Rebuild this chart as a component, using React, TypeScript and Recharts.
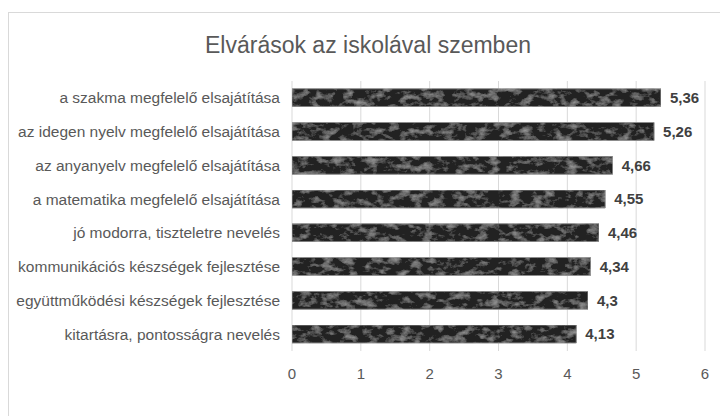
import React from 'react';
import { BarChart, Bar, XAxis, YAxis, CartesianGrid, LabelList } from 'recharts';

const categories = [
  'a szakma megfelelő elsajátítása',
  'az idegen nyelv megfelelő elsajátítása',
  'az anyanyelv megfelelő elsajátítása',
  'a matematika megfelelő elsajátítása',
  'jó modorra, tiszteletre nevelés',
  'kommunikációs készségek fejlesztése',
  'együttműködési készségek fejlesztése',
  'kitartásra, pontosságra nevelés',
];
const values = [5.36, 5.26, 4.66, 4.55, 4.46, 4.34, 4.3, 4.13];
const xTicks = [0, 1, 2, 3, 4, 5, 6];
const title = 'Elvárások az iskolával szemben';

const data = categories.map((c, i) => ({ name: c, value: values[i] }));

const FONT = '"Liberation Sans", Arial, sans-serif';

export default function App() {
  return (
    <div style={{ position: 'absolute', left: 0, top: 0, width: 720, height: 416, overflow: 'hidden', background: '#fff' }}>
      <div style={{ position: 'absolute', left: 8, top: 12, width: 800, height: 500, border: '1px solid #d9d9d9', boxSizing: 'border-box' }} />
      <div style={{ position: 'absolute', left: 0, top: 30, width: 736, textAlign: 'center', fontFamily: FONT, fontSize: 23, color: '#595959', lineHeight: '30px' }}>
        {title}
      </div>
      <div style={{ position: 'absolute', left: 0, top: 0 }}>
        <BarChart
          width={720}
          height={416}
          data={data}
          layout="vertical"
          margin={{ top: 81, right: 15, bottom: 35, left: 0 }}
          barCategoryGap="23%"
        >
          <defs>
            <filter id="tex" x="0" y="0" width="100%" height="100%">
              <feTurbulence type="fractalNoise" baseFrequency="0.09 0.14" numOctaves="4" seed="11" result="noise" />
              <feColorMatrix in="noise" type="matrix" values="0 0 0 0 0.45  0 0 0 0 0.45  0 0 0 0 0.45  0 0 0 1.5 -0.72" result="spots" />
              <feComposite in="spots" in2="SourceGraphic" operator="atop" />
            </filter>
          </defs>
          <CartesianGrid horizontal={false} stroke="#d9d9d9" />
          <XAxis
            type="number"
            domain={[0, 6]}
            ticks={xTicks}
            axisLine={false}
            tickLine={false}
            tickMargin={11}
            tick={{ fill: '#595959', fontSize: 15, fontFamily: FONT }}
          />
          <YAxis
            type="category"
            dataKey="name"
            width={292}
            axisLine={false}
            tickLine={false}
            tickMargin={6}
            interval={0}
            tick={{ fill: '#595959', fontSize: 15.5, fontFamily: FONT }}
          />
          <Bar dataKey="value" fill="#222222" stroke="#8c8c8c" strokeWidth={1} filter="url(#tex)" isAnimationActive={false}>
            <LabelList
              dataKey="value"
              position="right"
              offset={9}
              formatter={(v: any) => String(v).replace('.', ',')}
              style={{ fill: '#404040', fontSize: 15, fontWeight: 'bold', fontFamily: FONT }}
            />
          </Bar>
        </BarChart>
      </div>
    </div>
  );
}
